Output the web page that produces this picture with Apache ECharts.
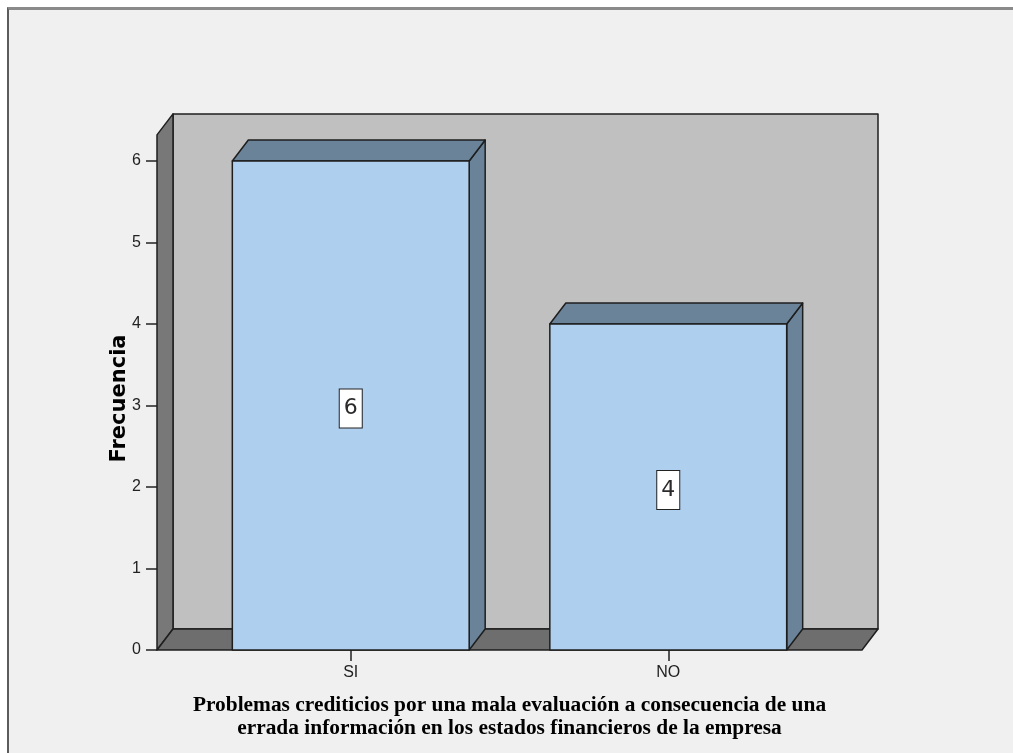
<!DOCTYPE html>
<html>
<head>
<meta charset="utf-8">
<script src="https://cdn.jsdelivr.net/npm/echarts@6/dist/echarts.min.js"></script>
<style>
  html, body { margin: 0; padding: 0; background: #ffffff; }
  #frame {
    position: absolute; left: 7px; top: 7px; width: 1006px; height: 746px;
    box-sizing: border-box; background: #f0f0f0;
    border-top: 3px solid #8a8a8a; border-left: 2px solid #5c5c5c;
  }
  #chart { position: absolute; left: 0; top: 0; width: 1013px; height: 753px; }
</style>
</head>
<body>
<div id="frame"></div>
<div id="chart"></div>
<script>
// Frequency counts per answer
const categories = ['SI', 'NO'];
const frecuencia = [6, 4];
const yTicks = [0, 1, 2, 3, 4, 5, 6];

const axisTitleX = 'Problemas crediticios por una mala evaluación a consecuencia de una\nerrada información en los estados financieros de la empresa';
const axisTitleY = 'Frecuencia';

// 3D look: depth offset of the box and bars, in pixels
const DX = 16, DY = -21;
// how far the floor and walls reach past the category band, in pixels
const SIDE_PAD = 35;
// top of the walls, in axis units (a bit above the last tick)
const WALL_TOP = 6.32;
const BAR_RATIO = 0.746;
const EDGE = '#1e1e1e';

const chart = echarts.init(document.getElementById('chart'), null, { renderer: 'canvas' });

function renderBox(params, api) {
  const cs = params.coordSys;
  const xl = cs.x - SIDE_PAD;
  const xr = cs.x + cs.width + SIDE_PAD;
  const yb = api.coord([0, 0])[1];
  const yt = api.coord([0, WALL_TOP])[1];
  const st = { stroke: EDGE, lineWidth: 1.5, lineJoin: 'round' };
  return {
    type: 'group',
    children: [
      { type: 'polygon', shape: { points: [[xl + DX, yt + DY], [xr + DX, yt + DY], [xr + DX, yb + DY], [xl + DX, yb + DY]] },
        style: Object.assign({ fill: '#c0c0c0' }, st) },
      { type: 'polygon', shape: { points: [[xl, yt], [xl + DX, yt + DY], [xl + DX, yb + DY], [xl, yb]] },
        style: Object.assign({ fill: '#787878' }, st) },
      { type: 'polygon', shape: { points: [[xl, yb], [xl + DX, yb + DY], [xr + DX, yb + DY], [xr, yb]] },
        style: Object.assign({ fill: '#6e6e6e' }, st) }
    ]
  };
}

function renderBar(params, api) {
  const idx = api.value(0);
  const val = api.value(1);
  const base = api.coord([idx, 0]);
  const top = api.coord([idx, val]);
  const mid = api.coord([idx, val / 2]);
  const w = api.size([1, 0])[0] * BAR_RATIO;
  const x0 = base[0] - w / 2, x1 = base[0] + w / 2;
  const y0 = base[1], y1 = top[1];
  const st = { stroke: EDGE, lineWidth: 1.5, lineJoin: 'round' };
  return {
    type: 'group',
    children: [
      { type: 'polygon', shape: { points: [[x1, y1], [x1 + DX, y1 + DY], [x1 + DX, y0 + DY], [x1, y0]] },
        style: Object.assign({ fill: '#6a8399' }, st) },
      { type: 'polygon', shape: { points: [[x0, y1], [x0 + DX, y1 + DY], [x1 + DX, y1 + DY], [x1, y1]] },
        style: Object.assign({ fill: '#6a8399' }, st) },
      { type: 'rect', shape: { x: x0, y: y1, width: x1 - x0, height: y0 - y1 },
        style: Object.assign({ fill: '#aecfee' }, st) },
      { type: 'text', x: mid[0], y: mid[1] + 3,
        style: {
          text: String(val), fill: '#2a2a2a',
          font: '22px "DejaVu Sans", sans-serif',
          align: 'center', verticalAlign: 'middle',
          backgroundColor: '#ffffff', borderColor: '#222222', borderWidth: 1,
          padding: [8, 4, 8, 4], lineHeight: 22
        } }
    ]
  };
}

chart.setOption({
  animation: false,
  backgroundColor: 'transparent',
  grid: { left: 192, right: 186, top: 161, bottom: 103, containLabel: false },
  xAxis: {
    type: 'category',
    data: categories,
    boundaryGap: true,
    axisLine: { show: false },
    axisTick: { show: true, alignWithLabel: true, length: 11, lineStyle: { color: '#222', width: 1.5 } },
    axisLabel: { margin: 15, fontSize: 16, color: '#222', fontFamily: 'Liberation Sans, sans-serif' },
    name: axisTitleX,
    nameLocation: 'middle',
    nameGap: 44,
    nameTextStyle: {
      fontFamily: '"Liberation Serif", serif', fontWeight: 'bold', fontSize: 21.4,
      color: '#000', lineHeight: 23, align: 'center'
    }
  },
  yAxis: {
    type: 'value',
    min: yTicks[0],
    max: yTicks[yTicks.length - 1],
    interval: 1,
    offset: SIDE_PAD,
    splitLine: { show: false },
    axisLine: { show: false },
    axisTick: { show: true, length: 11, lineStyle: { color: '#222', width: 1.5 } },
    axisLabel: { margin: 16, fontSize: 16, color: '#222', fontFamily: 'Liberation Sans, sans-serif' },
    name: axisTitleY,
    nameLocation: 'middle',
    nameGap: 27,
    nameMoveOverlap: false,
    nameRotate: 90,
    nameTextStyle: {
      fontFamily: '"DejaVu Sans", sans-serif', fontWeight: 'bold', fontSize: 21, color: '#000',
      padding: [0, 0, 0, 14]
    }
  },
  series: [
    { type: 'custom', renderItem: renderBox, data: [[0, 0]], silent: true, z: 1 },
    { type: 'custom', renderItem: renderBar, data: frecuencia.map((v, i) => [i, v]), z: 2,
      encode: { x: 0, y: 1 } }
  ]
});
</script>
</body>
</html>
